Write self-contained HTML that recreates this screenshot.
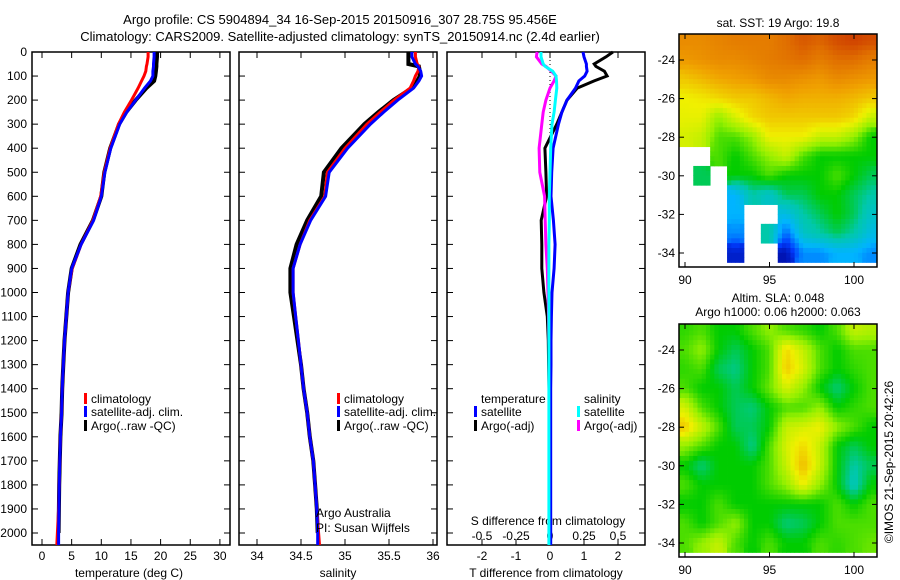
<!DOCTYPE html>
<html><head><meta charset="utf-8">
<style>
html,body{margin:0;padding:0;background:#fff;}
svg{display:block;font-family:"Liberation Sans",Arial,sans-serif;}
text{fill:#000;}
</style></head>
<body>
<svg id="chart" width="900" height="580" viewBox="0 0 900 580" xmlns="http://www.w3.org/2000/svg">
<text x="340" y="24" font-size="13" text-anchor="middle">Argo profile: CS 5904894_34 16-Sep-2015 20150916_307 28.75S 95.456E</text>
<text x="340" y="41" font-size="13" text-anchor="middle">Climatology: CARS2009. Satellite-adjusted climatology: synTS_20150914.nc (2.4d earlier)</text>
<g id="g"></g>
</svg>
<script>
// ---- data ----
const pres = [0,20,50,60,80,100,120,150,200,250,300,400,500,600,700,800,900,1000,1100,1200,1300,1400,1500,1600,1700,1800,1900,2000,2050];
const tClim = [17.9,17.9,17.7,17.6,17.5,17.2,16.8,16.2,15.1,13.9,12.9,11.5,10.5,9.9,8.6,6.6,5.1,4.4,4.1,3.8,3.6,3.4,3.3,3.1,3.0,2.9,2.8,2.6,2.5];
const tSat = [18.9,18.9,18.8,18.8,18.7,18.7,18.3,17.3,15.8,14.3,13.1,11.6,10.6,10.0,8.7,6.6,5.0,4.4,4.1,3.8,3.6,3.4,3.3,3.1,3.0,2.9,2.85,2.8,2.8];
const tArgo = [19.4,19.4,19.3,19.3,19.2,19.1,18.9,17.6,15.8,14.2,13.0,11.5,10.5,10.0,8.6,6.5,5.0,4.4,4.1,3.8,3.6,3.4,3.3,3.1,3.0,2.9,2.85,2.8,null];
const sClim = [35.8,35.8,35.82,35.84,35.83,35.8,35.78,35.74,35.56,35.4,35.25,35.0,34.8,34.77,34.6,34.49,34.41,34.41,34.44,34.47,34.5,34.53,34.57,34.6,34.64,34.66,34.68,34.7,34.71];
const sSat = [35.76,35.76,35.8,35.83,35.86,35.87,35.84,35.78,35.6,35.44,35.29,35.03,34.82,34.78,34.61,34.49,34.41,34.41,34.44,34.47,34.5,34.53,34.57,34.6,34.64,34.66,34.68,34.69,34.69];
const sArgo = [35.72,35.72,35.72,35.84,35.85,35.85,35.82,35.76,35.55,35.38,35.22,34.96,34.76,34.73,34.57,34.45,34.38,34.38,34.42,34.46,34.5,34.53,34.57,34.6,34.64,34.66,34.68,34.69,null];
const dTSat = [0.97,1.0,1.07,1.07,1.09,1.02,0.85,0.75,0.5,0.35,0.25,0.09,0.05,0.03,0.1,0.15,0.12,0.06,0.04,0.03,0.03,0.02,0.02,0.02,0.02,0.02,0.02,0.02,0.02];
const dTArgo = [1.85,1.65,1.3,1.35,1.6,1.68,1.3,0.8,0.5,0.35,0.2,-0.15,-0.12,-0.1,-0.26,-0.24,-0.24,-0.18,-0.08,-0.05,-0.04,-0.03,-0.03,-0.02,-0.02,-0.02,-0.02,-0.02,null];
const dSSat = [-0.066,-0.066,-0.05,-0.035,0.02,0.044,0.048,0.05,0.04,0.03,0.015,0.005,0.0,-0.005,-0.005,-0.008,-0.008,-0.008,-0.008,-0.008,-0.008,-0.008,-0.008,-0.008,-0.008,-0.008,-0.008,-0.008,-0.008];
const dSArgo = [-0.095,-0.1,-0.06,-0.03,0.01,0.044,0.03,0.0,-0.03,-0.05,-0.06,-0.08,-0.075,-0.04,-0.035,-0.03,-0.02,-0.015,-0.01,-0.008,-0.005,-0.005,-0.005,-0.005,-0.005,0.0,0.0,0.0,0.0];
const yTicks = [0,100,200,300,400,500,600,700,800,900,1000,1100,1200,1300,1400,1500,1600,1700,1800,1900,2000];
const tTicks = [0,5,10,15,20,25,30];
const sTicks = [34,34.5,35,35.5,36];
const dtTicks = [-2,-1,0,1,2];
const dsTicks = [-0.5,-0.25,0,0.25,0.5];
const dsTickLabels = ["-0.5","-0.25","0","0.25","0.5"];
const lonTicks = [90,95,100];
const latTicks = [-24,-26,-28,-30,-32,-34];
const mapLats = [-23,-24,-25,-26,-27,-28,-29,-30,-31,-32,-33,-34];
const mapLons = [90,91,92,93,94,95,96,97,98,99,100,101];
const sstGrid = [
[.88,.88,.89,.9,.9,.9,.92,.94,.93,.95,.96,.95],
[.86,.87,.88,.88,.89,.9,.91,.92,.9,.92,.92,.9],
[.8,.82,.84,.85,.86,.88,.88,.87,.86,.88,.87,.86],
[.75,.76,.78,.8,.8,.82,.84,.83,.83,.83,.82,.8],
[.74,.74,.65,.72,.78,.8,.8,.8,.8,.8,.78,.7],
[.72,.7,.6,.6,.65,.75,.75,.75,.7,.7,.65,.55],
[null,null,.6,.55,.6,.65,.7,.6,.55,.55,.55,.55],
[null,.5,null,.55,.55,.6,.55,.55,.55,.6,.55,.5],
[null,null,null,.3,.45,.4,.5,.5,.55,.55,.5,.45],
[null,null,null,.3,null,null,.35,.45,.5,.55,.5,.4],
[null,null,null,.25,null,.45,.2,.4,.45,.5,.45,.35],
[null,null,null,.08,null,null,.05,.25,.25,.3,.3,.25]];
const slaGrid = [
[.58,.6,.55,.55,.6,.65,.6,.58,.55,.6,.7,.68],
[.6,.65,.55,.5,.55,.6,.78,.7,.6,.55,.6,.6],
[.58,.6,.5,.47,.55,.6,.8,.72,.6,.55,.58,.6],
[.6,.55,.55,.5,.55,.62,.72,.65,.55,.48,.55,.6],
[.72,.6,.55,.5,.48,.55,.6,.6,.65,.55,.58,.6],
[.8,.7,.6,.5,.5,.55,.7,.72,.75,.65,.6,.55],
[.65,.6,.55,.55,.47,.6,.72,.78,.7,.55,.5,.55],
[.55,.48,.55,.55,.55,.6,.7,.82,.7,.55,.45,.5],
[.6,.55,.55,.55,.55,.6,.65,.75,.65,.55,.42,.55],
[.55,.55,.6,.55,.55,.55,.55,.55,.55,.6,.55,.6],
[.6,.55,.6,.65,.55,.55,.48,.5,.55,.6,.6,.6],
[.6,.65,.7,.6,.55,.6,.55,.55,.6,.58,.6,.62]];

// ---- helpers ----
const NS="http://www.w3.org/2000/svg";
const G=document.getElementById('g');
function mk(tag,attrs,parent){const e=document.createElementNS(NS,tag);for(const k in attrs)e.setAttribute(k,attrs[k]);(parent||G).appendChild(e);return e;}
const PT=52, PB=545;
const yP = p => PT + p*0.2405;
const panels = [
 {x0:32,x1:230,fx:v=>42+5.93*v},
 {x0:239,x1:437,fx:v=>257+88*(v-34)},
 {x0:447,x1:645,fx:v=>550+34*v}];
const fdS = v=>550+136*v;

function line(xs,ps,fx,color,w,name){
  let d='';let pen=false;
  for(let i=0;i<ps.length;i++){ if(xs[i]==null){pen=false;continue;}
    d+=(pen?'L':'M')+fx(xs[i]).toFixed(1)+','+yP(ps[i]).toFixed(1);pen=true;}
  const e=mk('path',{d:d,fill:'none',stroke:color,'stroke-width':w,'stroke-linejoin':'miter'});
  
  
  return e;
}

// axes frames & ticks
panels.forEach((P,pi)=>{
  const r=mk('rect',{x:P.x0,y:PT,width:P.x1-P.x0,height:PB-PT,fill:'none',stroke:'#000','stroke-width':1.5});
  
  
  yTicks.forEach(p=>{
    mk('line',{x1:P.x0,x2:P.x0+6,y1:yP(p),y2:yP(p),stroke:'#000'});
    mk('line',{x1:P.x1-6,x2:P.x1,y1:yP(p),y2:yP(p),stroke:'#000'});
  });
});
yTicks.forEach(p=>{
  const t=mk('text',{x:27,y:yP(p)+4,'font-size':12,'text-anchor':'end'});t.textContent=p;
  
  
});
function xAxis(P,ticks,labels,fx,ly,ticksBottom){
  ticks.forEach((v,i)=>{
    const x=fx(v);
    mk('line',{x1:x,x2:x,y1:PT,y2:PT+6,stroke:'#000'});
    if(ticksBottom) mk('line',{x1:x,x2:x,y1:PB-6,y2:PB,stroke:'#000'});
    const t=mk('text',{x:x,y:ly,'font-size':12,'text-anchor':'middle'});t.textContent=labels[i];
    
    
  });
}
xAxis(panels[0],tTicks,tTicks,panels[0].fx,560,true);
xAxis(panels[1],sTicks,sTicks,panels[1].fx,560,true);
xAxis(panels[2],dtTicks,dtTicks,panels[2].fx,560,true);
dsTicks.forEach((v,i)=>{const t=mk('text',{x:fdS(v),y:540,'font-size':12,'text-anchor':'middle'});t.textContent=dsTickLabels[i];
  
  });
[['temperature (deg C)',129,'x-axis-title-temperature'],['salinity',338,'x-axis-title-salinity'],['T difference from climatology',546,'x-axis-title-t-diff']].forEach(a=>{
  const t=mk('text',{x:a[1],y:577,'font-size':12,'text-anchor':'middle'});t.textContent=a[0];
  
  });
{const t=mk('text',{x:548,y:525,'font-size':12,'text-anchor':'middle'});t.textContent='S difference from climatology';
 
 }

// profiles
line(tArgo,pres,panels[0].fx,'#000',4,'temp-argo-line');
line(tClim,pres,panels[0].fx,'#f00',3,'temp-climatology-line');
line(tSat,pres,panels[0].fx,'#00f',3,'temp-satellite-line');
line(sArgo,pres,panels[1].fx,'#000',4,'sal-argo-line');
line(sClim,pres,panels[1].fx,'#f00',3,'sal-climatology-line');
line(sSat,pres,panels[1].fx,'#00f',3,'sal-satellite-line');
{const z=mk('line',{x1:550,x2:550,y1:PT,y2:210,stroke:'#000','stroke-dasharray':'1,3'});
 }
line(dTArgo,pres,panels[2].fx,'#000',3,'tdiff-argo-line');
line(dSArgo,pres,fdS,'#f0f',3,'sdiff-argo-line');
line(dTSat,pres,panels[2].fx,'#00f',3,'tdiff-satellite-line');
line(dSSat,pres,fdS,'#0ff',3,'sdiff-satellite-line');

// legends
function leg(x,y,color,label,name){
  if(color) mk('rect',{x:x,y:y-10,width:3,height:11,fill:color});
  const t=mk('text',{x:x+7,y:y,'font-size':12});t.textContent=label;
  
  
}
leg(84,403,'#f00','climatology','legend-climatology');
leg(84,416,'#00f','satellite-adj. clim.','legend-satellite-adj');
leg(84,430,'#000','Argo(..raw -QC)','legend-argo');
leg(337,403,'#f00','climatology','legend2-climatology');
leg(337,416,'#00f','satellite-adj. clim.','legend2-satellite-adj');
leg(337,430,'#000','Argo(..raw -QC)','legend2-argo');
leg(474,403,null,'temperature','legend-temperature-header');
leg(474,416,'#00f','satellite','legend-t-satellite');
leg(474,430,'#000','Argo(-adj)','legend-t-argo');
leg(577,403,null,'salinity','legend-salinity-header');
leg(577,416,'#0ff','satellite','legend-s-satellite');
leg(577,430,'#f0f','Argo(-adj)','legend-s-argo');
{const t=mk('text',{x:316,y:517,'font-size':12});t.textContent='Argo Australia';
 
 const t2=mk('text',{x:316,y:532,'font-size':12});t2.textContent='PI: Susan Wijffels';
 }

// maps
const stops=[[0,[0,0,143]],[0.15,[0,60,255]],[0.3,[0,180,255]],[0.45,[0,200,170]],[0.55,[0,204,0]],[0.65,[150,240,0]],[0.75,[240,240,0]],[0.85,[240,160,0]],[0.92,[224,110,0]],[1,[190,20,0]]];
function cmap(v){for(let i=1;i<stops.length;i++){if(v<=stops[i][0]){const a=stops[i-1],b=stops[i],f=(v-a[0])/(b[0]-a[0]);
  return 'rgb('+a[1].map((c,k)=>Math.round(c+(b[1][k]-c)*f)).join(',')+')';}}return 'rgb(190,20,0)';}
function val(grid,i,j,fb){if(i<0||j<0||i>=grid.length||j>=grid[0].length)return fb;const v=grid[i][j];return v==null?fb:v;}
function map(top,grid,name){
  const X0=679,X1=877,Y0=top,Y1=top+233;
  const fx=l=>685+16.9*(l-90), fy=la=>Y0+26+19.3*(-24-la);
  const cl=mk('clipPath',{id:'clip'+name});mk('rect',{x:X0,y:Y0,width:X1-X0,height:Y1-Y0},cl);
  const g=mk('g',{'clip-path':'url(#clip'+name+')'});
  
  const N=4;
  mapLats.forEach((la,i)=>mapLons.forEach((lo,j)=>{const v=grid[i][j];if(v==null)return;
    for(let a=0;a<N;a++)for(let b=0;b<N;b++){
      const u=(b+0.5)/N-0.5, w=(a+0.5)/N-0.5;
      const dj=u<0?-1:1, di=w<0?-1:1, fu=Math.abs(u), fw=Math.abs(w);
      const vv=v*(1-fu)*(1-fw)+val(grid,i,j+dj,v)*fu*(1-fw)+val(grid,i+di,j,v)*(1-fu)*fw+val(grid,i+di,j+dj,v)*fu*fw;
      const c=mk('rect',{x:fx(lo-0.5+b/N)-0.2,y:fy(la+0.5-a/N)-0.2,width:16.9/N+0.4,height:19.3/N+0.4,fill:cmap(vv)},g);
      
      
    }}));
  const f=mk('rect',{x:X0,y:Y0,width:X1-X0,height:Y1-Y0,fill:'none',stroke:'#000','stroke-width':1.5});
  
  lonTicks.forEach(l=>{const x=fx(l);mk('line',{x1:x,x2:x,y1:Y0,y2:Y0+5,stroke:'#000'});mk('line',{x1:x,x2:x,y1:Y1-5,y2:Y1,stroke:'#000'});
    const t=mk('text',{x:x,y:Y1+17,'font-size':12,'text-anchor':'middle'});t.textContent=l;
    });
  latTicks.forEach(la=>{const y=fy(la);mk('line',{x1:X0,x2:X0+5,y1:y,y2:y,stroke:'#000'});mk('line',{x1:X1-5,x2:X1,y1:y,y2:y,stroke:'#000'});
    const t=mk('text',{x:675,y:y+4,'font-size':12,'text-anchor':'end'});t.textContent=la;
    });
}
map(34,sstGrid,'sst-map');
map(324,slaGrid,'sla-map');
[['sat. SST: 19 Argo: 19.8',778,27,'sst-map-title'],['Altim. SLA: 0.048',778,302,'sla-map-title-1'],['Argo h1000: 0.06 h2000: 0.063',778,316,'sla-map-title-2']].forEach(a=>{
  const t=mk('text',{x:a[1],y:a[2],'font-size':12,'text-anchor':'middle'});t.textContent=a[0];
  });
{const t=mk('text',{x:0,y:0,'font-size':12,'text-anchor':'middle',transform:'translate(893,462) rotate(-90)'});t.textContent='©IMOS 21-Sep-2015 20:42:26';
 }
</script>
</body></html>
